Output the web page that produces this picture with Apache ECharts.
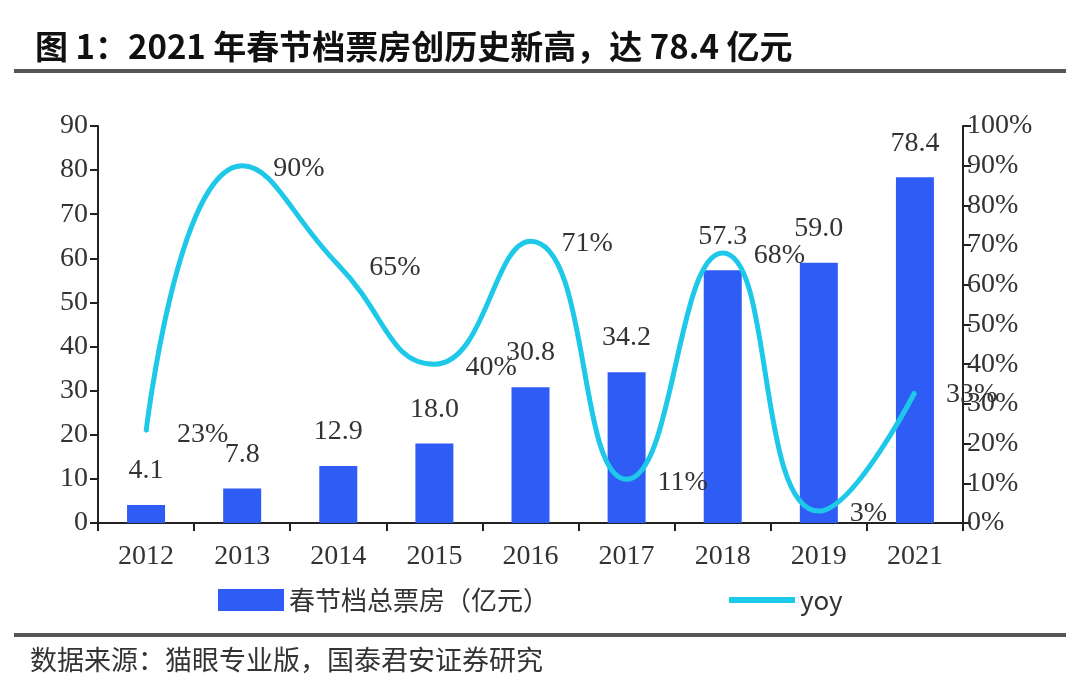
<!DOCTYPE html>
<html><head><meta charset="utf-8">
<script src="https://cdn.jsdelivr.net/npm/echarts@6/dist/echarts.min.js"></script>
<style>html,body{margin:0;padding:0;background:#fff}#c{width:1080px;height:692px}</style>
</head><body><div id="c"></div>
<script>
const categories = ['2012','2013','2014','2015','2016','2017','2018','2019','2021'];
const boxOffice = [4.1, 7.8, 12.9, 18.0, 30.8, 34.2, 57.3, 59.0, 78.4];
const yoy = [23, 90, 65, 40, 71, 11, 68, 3, 33];
const titleText = '图 1：2021 年春节档票房创历史新高，达 78.4 亿元';
const sourceText = '数据来源：猫眼专业版，国泰君安证券研究';
const barName = '春节档总票房（亿元）';
const lineName = 'yoy';

const serif = 'Liberation Serif, Times New Roman, serif';
const cjk = 'Noto Sans CJK SC, sans-serif';
const chart = echarts.init(document.getElementById('c'));
chart.setOption({
  animation: false,
  backgroundColor: '#fff',
  title: {
    text: titleText, left: 30, top: 25,
    textStyle: {fontFamily: cjk, fontWeight: 'bold', fontSize: 33, color: '#111'}
  },
  graphic: [
    {type: 'rect', shape: {x: 14, y: 69, width: 1052, height: 4}, style: {fill: '#555'}},
    {type: 'rect', shape: {x: 14, y: 633, width: 1052, height: 4}, style: {fill: '#555'}},
    {type: 'text', left: 30, top: 646, style: {text: sourceText, font: '27px ' + cjk, fill: '#333'}}
  ],
  legend: {
    bottom: 74, left: 213, itemGap: 180,
    itemWidth: 66, itemHeight: 22,
    textStyle: {fontFamily: cjk, fontSize: 26, color: '#333'},
    data: [
      {name: barName, icon: 'rect'},
      {name: lineName, icon: 'path://M0,8 L66,8 L66,14 L0,14 Z', itemStyle: {color: '#1EC8E8', opacity: 1}}
    ]
  },
  grid: {left: 98, right: 117, top: 126, bottom: 169},
  xAxis: {
    type: 'category', data: categories, boundaryGap: true,
    axisLine: {lineStyle: {color: '#222', width: 2}},
    axisTick: {show: true, length: 8, lineStyle: {color: '#222', width: 2}},
    axisLabel: {fontFamily: serif, fontSize: 28, color: '#333', margin: 20}
  },
  yAxis: [
    {
      type: 'value', min: 0, max: 90, interval: 10,
      axisLine: {show: true, lineStyle: {color: '#222', width: 2}},
      axisTick: {show: true, length: 8, lineStyle: {color: '#222', width: 2}},
      splitLine: {show: false},
      axisLabel: {fontFamily: serif, fontSize: 28, color: '#333', margin: 10}
    },
    {
      type: 'value', min: 0, max: 100, interval: 10, position: 'right',
      axisLine: {show: true, lineStyle: {color: '#222', width: 2}},
      axisTick: {show: true, length: 8, lineStyle: {color: '#222', width: 2}},
      splitLine: {show: false},
      axisLabel: {fontFamily: serif, fontSize: 28, color: '#333', margin: 4, formatter: '{value}%'}
    }
  ],
  series: [
    {
      name: barName, type: 'bar', data: boxOffice, barWidth: 38,
      itemStyle: {color: '#2F5CF5'},
      label: {show: true, position: 'top', distance: 20, fontFamily: serif, fontSize: 28, color: '#333',
        formatter: p => p.value.toFixed(1)}
    },
    {
      name: lineName, type: 'line', yAxisIndex: 1, data: yoy, smooth: 0.5,
      symbol: 'circle', symbolSize: 2, showSymbol: true,
      lineStyle: {color: '#1EC8E8', width: 5},
      itemStyle: {color: '#1EC8E8'},
      label: {show: true, position: 'right', distance: 30, offset: [0, 3], fontFamily: serif, fontSize: 28, color: '#333',
        formatter: p => p.value + '%'}
    }
  ]
});
</script></body></html>
